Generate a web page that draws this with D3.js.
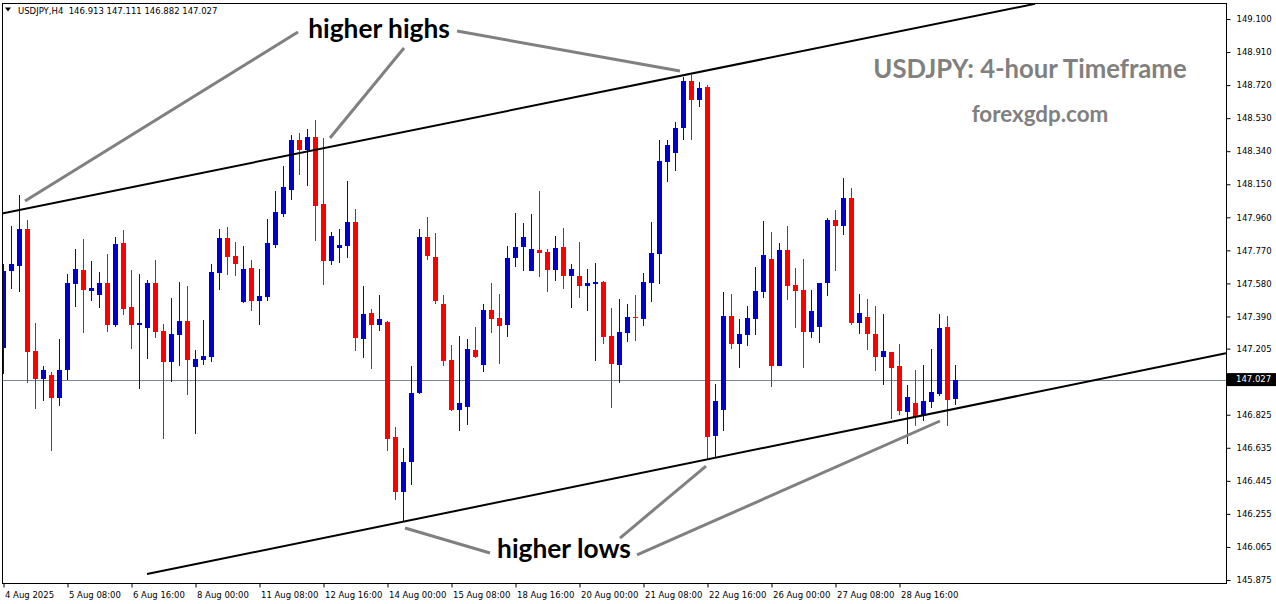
<!DOCTYPE html>
<html><head><meta charset="utf-8">
<script src="https://cdn.jsdelivr.net/npm/d3@7"></script>
<style>body{margin:0;background:#fff;} svg{display:block;}</style>
</head><body><svg id="c" width="1276" height="604"></svg>
<script>
// ---- data (USDJPY H4, one entry per candle, oldest first) ----
const open = [
147.207,147.653,147.682,147.893,147.191,147.032,147.053,146.923,147.082,147.578,
147.657,147.538,147.515,147.582,147.343,147.812,147.444,147.341,147.325,147.582,
147.306,147.130,147.283,147.364,147.101,147.141,147.159,147.642,147.841,147.738,
147.471,147.669,147.479,147.502,147.801,147.981,148.117,148.404,148.347,148.422,
148.037,147.709,147.784,147.795,147.933,147.260,147.410,147.341,147.358,146.697,
146.383,146.553,146.950,147.847,147.732,147.462,147.140,146.854,146.871,147.197,
147.113,147.427,147.381,147.343,147.726,147.789,147.653,147.772,147.761,147.659,
147.789,147.624,147.623,147.567,147.578,147.588,147.279,147.113,147.297,147.389,
147.377,147.584,147.751,148.280,148.331,148.475,148.745,148.636,148.711,146.705,
146.854,147.394,147.233,147.285,147.377,147.532,147.722,147.107,147.774,147.573,
147.544,147.302,147.331,147.584,147.946,147.912,148.073,147.354,147.389,147.291,
147.159,147.187,147.107,146.842,146.894,146.819,146.900,146.946,147.331,146.913];
const high = [
147.692,147.910,148.088,147.945,147.351,147.105,147.071,147.260,147.634,147.778,
147.835,147.709,147.646,147.749,147.847,147.887,147.657,147.634,147.600,147.715,
147.347,147.496,147.588,147.565,147.197,147.370,147.692,147.893,147.904,147.818,
147.795,147.715,147.663,147.952,148.111,148.255,148.433,148.445,148.468,148.519,
148.416,147.876,147.893,148.169,148.008,147.565,147.433,147.513,147.362,146.755,
146.636,147.105,147.893,147.962,147.870,147.513,147.226,147.278,147.260,147.329,
147.462,147.582,147.519,147.795,147.985,147.927,147.979,148.111,147.778,147.853,
147.899,147.692,147.818,147.663,147.697,147.594,147.440,147.492,147.463,147.515,
147.642,147.935,148.406,148.406,148.510,148.768,148.780,148.740,148.722,147.003,
147.532,147.521,147.377,147.452,147.676,147.940,147.877,147.814,147.912,147.670,
147.722,147.544,147.584,147.958,148.004,148.188,148.130,147.521,147.492,147.452,
147.406,147.187,147.233,146.998,147.084,147.113,147.205,147.406,147.394,147.111];
const low = [
147.057,147.550,147.532,147.006,146.860,146.906,146.618,146.877,147.025,147.446,
147.297,147.481,147.440,147.302,147.331,147.400,147.205,146.975,147.147,147.268,
146.687,147.015,147.107,146.940,146.716,147.113,147.130,147.542,147.630,147.624,
147.467,147.421,147.341,147.479,147.784,147.963,148.059,148.203,148.140,147.824,
147.571,147.686,147.697,147.726,147.191,147.151,147.088,147.306,146.618,146.337,
146.210,146.423,146.946,147.716,147.463,147.107,146.848,146.733,146.768,147.153,
147.072,147.297,147.118,147.274,147.676,147.653,147.653,147.619,147.532,147.596,
147.550,147.440,147.498,147.423,147.136,147.233,146.865,147.009,147.245,147.251,
147.337,147.475,147.578,148.165,148.228,148.406,148.406,148.596,146.572,146.578,
146.733,147.205,147.095,147.222,147.285,147.498,146.986,147.107,147.486,147.325,
147.095,147.268,147.239,147.509,147.653,147.860,147.343,147.291,147.199,147.078,
146.998,146.802,146.825,146.659,146.762,146.791,146.865,146.934,146.762,146.882];
const close = [
147.653,147.692,147.893,147.187,147.032,147.082,146.923,147.082,147.582,147.663,
147.544,147.554,147.582,147.343,147.807,147.435,147.343,147.352,147.582,147.302,
147.130,147.289,147.364,147.141,147.145,147.164,147.646,147.841,147.734,147.693,
147.663,147.479,147.508,147.812,147.990,148.134,148.404,148.347,148.422,148.025,
147.709,147.853,147.801,147.933,147.266,147.404,147.341,147.375,146.687,146.383,
146.553,146.950,147.847,147.739,147.481,147.136,146.854,146.892,147.203,147.159,
147.427,147.377,147.337,147.726,147.789,147.847,147.778,147.757,147.659,147.784,
147.624,147.663,147.567,147.582,147.588,147.274,147.118,147.302,147.389,147.381,
147.590,147.757,148.285,148.377,148.475,148.745,148.636,148.705,146.699,146.906,
147.394,147.233,147.291,147.383,147.538,147.745,147.107,147.774,147.567,147.538,
147.302,147.423,147.584,147.946,147.912,148.073,147.354,147.410,147.291,147.159,
147.191,147.095,146.848,146.929,146.814,146.906,146.957,147.325,146.911,147.027];

const timeTickIndex = [0,8,16,24,32,40,48,56,64,72,80,88,96,104,112];
const timeLabels = ["4 Aug 2025","5 Aug 08:00","6 Aug 16:00","8 Aug 00:00","11 Aug 08:00",
  "12 Aug 16:00","14 Aug 00:00","15 Aug 08:00","18 Aug 16:00","20 Aug 00:00","21 Aug 08:00",
  "22 Aug 16:00","26 Aug 00:00","27 Aug 08:00","28 Aug 16:00"];
const priceTicks = [149.100,148.910,148.720,148.530,148.340,148.150,147.960,147.770,147.580,
  147.390,147.205,146.825,146.635,146.445,146.255,146.065,145.875];
const symbol = "USDJPY,H4";
const lastPrice = 147.027;

// trend channel lines [candle index, price]
const upperTrend = [[-0.19,147.982],[128.94,149.187]];
const lowerTrend = [[17.94,145.909],[152.81,147.178]];
// grey pointer lines [candle index, price] pairs
const highPointers = [
  [[36.81,149.025],[2.69,148.054]],
  [[50.06,148.933],[40.81,148.416]],
  [[56.69,149.031],[84.56,148.801]]];
const lowPointers = [
  [[60.81,146.030],[50.19,146.174]],
  [[77.06,146.116],[87.81,146.530]],
  [[79.19,146.019],[117.06,146.789]]];
const notes = [
  {text:"higher highs", at:[46.94,148.991], size:26.3, color:"#000"},
  {text:"higher lows", at:[70.06,146.001], size:26.3, color:"#000"},
  {text:"USDJPY: 4-hour Timeframe", at:[128.31,148.761], size:25.7, color:"#808080"},
  {text:"forexgdp.com", at:[129.56,148.508], size:22.4, color:"#808080"}];

// ---- drawing ----
const W = 1276, H = 604;
const L = 2, R = 1226, T = 3, B = 583;
const svg = d3.select("#c");
const x = d3.scaleLinear().domain([-0.1875, 152.8125]).range([L, R]);
const y = d3.scaleLinear().domain([145.85769, 149.19198]).range([B, T]);
const step = x(1) - x(0);
const bw = step * 0.625;
const bull = "#0000CD", bear = "#FF0000";
const tickFont = "DejaVu Sans, Verdana, sans-serif";

svg.append("rect").attr("width", W).attr("height", H).attr("fill", "#fff");
svg.append("defs").append("clipPath").attr("id", "plot")
  .append("rect").attr("x", L).attr("y", T).attr("width", R - L).attr("height", B - T);

const plot = svg.append("g").attr("clip-path", "url(#plot)");

// current price line
plot.append("line").attr("x1", L).attr("x2", R)
  .attr("y1", Math.round(y(lastPrice)) + 0.5).attr("y2", Math.round(y(lastPrice)) + 0.5)
  .attr("stroke", "#778899").attr("stroke-width", 1);

const candles = d3.range(open.length).map(i => ({i, o: open[i], h: high[i], l: low[i], c: close[i]}));
const cg = plot.append("g").attr("shape-rendering", "crispEdges");
cg.selectAll("line.w").data(candles).join("line").attr("class", "w")
  .attr("x1", d => x(d.i)).attr("x2", d => x(d.i))
  .attr("y1", d => y(d.h)).attr("y2", d => y(d.l))
  .attr("stroke", d => d.c >= d.o ? bull : bear).attr("stroke-width", 1);
cg.selectAll("rect.b").data(candles).join("rect").attr("class", "b")
  .attr("x", d => x(d.i) - bw / 2).attr("width", bw)
  .attr("y", d => y(Math.max(d.o, d.c)))
  .attr("height", d => Math.max(1, y(Math.min(d.o, d.c)) - y(Math.max(d.o, d.c))))
  .attr("fill", d => d.c >= d.o ? bull : bear);

// trend lines
const lineGen = d3.line().x(d => x(d[0])).y(d => y(d[1]));
plot.selectAll("path.trend").data([upperTrend, lowerTrend]).join("path").attr("class", "trend")
  .attr("d", lineGen).attr("fill", "none").attr("stroke", "#000").attr("stroke-width", 2);
plot.selectAll("path.ptr").data(highPointers.concat(lowPointers)).join("path").attr("class", "ptr")
  .attr("d", lineGen).attr("fill", "none").attr("stroke", "#808080").attr("stroke-width", 3);

plot.selectAll("text.note").data(notes).join("text").attr("class", "note")
  .attr("x", d => x(d.at[0])).attr("y", d => y(d.at[1]))
  .attr("text-anchor", "middle")
  .attr("font-family", "Lato, 'Open Sans', sans-serif").attr("font-weight", 700)
  .attr("font-size", d => d.size).attr("fill", d => d.color)
  .text(d => d.text);

// frame
svg.append("rect").attr("x", L + 0.5).attr("y", T + 0.5).attr("width", R - L).attr("height", B - T)
  .attr("fill", "none").attr("stroke", "#000").attr("stroke-width", 1).attr("shape-rendering", "crispEdges");

// right price axis
const yAxis = d3.axisRight(y).tickValues(priceTicks).tickFormat(d3.format(".3f")).tickSize(4).tickPadding(6);
const ya = svg.append("g").attr("transform", `translate(${R + 0.5},0)`).call(yAxis);
ya.select(".domain").remove();
ya.selectAll("text").attr("font-family", tickFont).attr("font-size", 8.5).attr("fill", "#000");
ya.selectAll("line").attr("stroke", "#000");

// current price tag
const py = y(lastPrice);
svg.append("rect").attr("x", R + 1).attr("y", py - 6.5).attr("width", W - R - 1).attr("height", 13).attr("fill", "#000");
svg.append("text").attr("x", R + 10).attr("y", py).attr("dy", "0.32em")
  .attr("font-family", tickFont).attr("font-size", 8.5).attr("fill", "#fff")
  .text(d3.format(".3f")(lastPrice));

// bottom time axis
const xAxis = d3.axisBottom(x).tickValues(timeTickIndex)
  .tickFormat((d, k) => timeLabels[k]).tickSize(4).tickPadding(4);
const xa = svg.append("g").attr("transform", `translate(0,${B + 0.5})`).call(xAxis);
xa.select(".domain").remove();
xa.selectAll("line").attr("stroke", "#000");
xa.selectAll("text").attr("text-anchor", "start").attr("dx", 1)
  .attr("font-family", tickFont).attr("font-size", 8.5).attr("fill", "#000");

// top-left info
svg.append("path").attr("d", "M5,7.5 L11,7.5 L8,11.5 Z").attr("fill", "#000");
svg.append("text").attr("x", 18).attr("y", 14).attr("xml:space", "preserve")
  .attr("font-family", tickFont).attr("font-size", 8.5).attr("fill", "#000")
  .text(`${symbol}  ${open[open.length-1].toFixed(3)} ${high[high.length-1].toFixed(3)} ${low[low.length-1].toFixed(3)} ${close[close.length-1].toFixed(3)}`);
</script></body></html>
